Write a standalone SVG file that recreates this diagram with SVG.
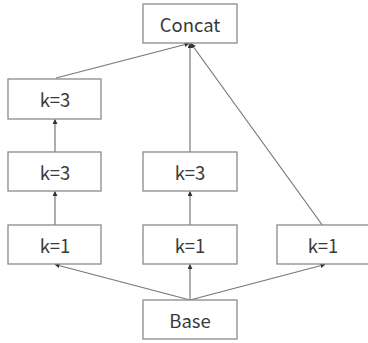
<svg xmlns="http://www.w3.org/2000/svg" width="368" height="343" viewBox="0 0 368 343">
<defs>
<marker id="ah" viewBox="0 0 6 6" refX="5.5" refY="3" markerWidth="5" markerHeight="5" orient="auto" markerUnits="userSpaceOnUse">
<path d="M0,0 L6,3 L0,6 Z" fill="#333"/>
</marker>
<style>
.box{fill:#fff;stroke:#8a8a8a;stroke-width:1.3}
.lbl{font-family:"Noto Sans CJK SC","Noto Sans",sans-serif;font-size:18.5px;fill:#3a3a3a;text-anchor:middle;dominant-baseline:central}
.edge{stroke:#777;stroke-width:1.2;fill:none;marker-end:url(#ah)}
</style>
</defs>
<rect width="368" height="343" fill="#fff"/>
<g id="edges">
<line class="edge" x1="56" y1="78" x2="189" y2="43.5"/>
<line class="edge" x1="190" y1="152" x2="190" y2="43.5"/>
<line class="edge" x1="323" y1="226" x2="191" y2="43.5"/>
<line class="edge" x1="55" y1="152" x2="55" y2="119.5"/>
<line class="edge" x1="55" y1="226" x2="55" y2="191.5"/>
<line class="edge" x1="190" y1="226" x2="190" y2="191.5"/>
<line class="edge" x1="190" y1="300" x2="55" y2="264.5"/>
<line class="edge" x1="190" y1="300" x2="190" y2="264.5"/>
<line class="edge" x1="190" y1="300" x2="325" y2="264.5"/>
</g>
<g id="concat"><rect class="box" x="143" y="4" width="94" height="39"/><text class="lbl" x="190" y="24">Concat</text></g>
<g id="l3a"><rect class="box" x="8" y="79" width="93" height="40"/><text class="lbl" x="55" y="99">k=3</text></g>
<g id="l3b"><rect class="box" x="8" y="152" width="93" height="39"/><text class="lbl" x="55" y="172">k=3</text></g>
<g id="m3"><rect class="box" x="143" y="152" width="94" height="39"/><text class="lbl" x="190" y="172">k=3</text></g>
<g id="l1"><rect class="box" x="8" y="225" width="93" height="39"/><text class="lbl" x="55" y="245">k=1</text></g>
<g id="m1"><rect class="box" x="143" y="225" width="94" height="39"/><text class="lbl" x="190" y="245">k=1</text></g>
<g id="r1"><rect class="box" x="277" y="225" width="96" height="39"/><text class="lbl" x="323" y="245">k=1</text></g>
<g id="base"><rect class="box" x="143" y="300" width="94" height="39"/><text class="lbl" x="190" y="320">Base</text></g>
</svg>
